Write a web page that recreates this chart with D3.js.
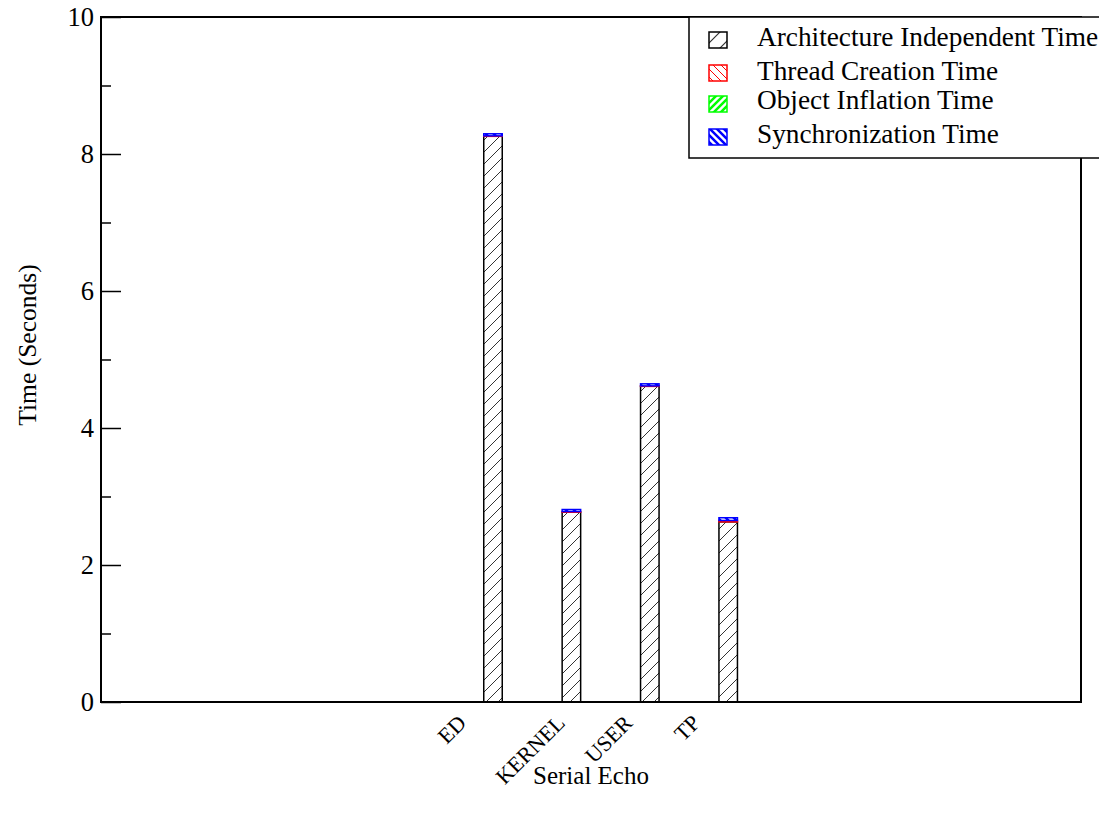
<!DOCTYPE html>
<html>
<head>
<meta charset="utf-8">
<script src="https://cdn.jsdelivr.net/npm/d3@7"></script>
<style>
  html, body { margin: 0; padding: 0; background: #fff; }
  svg { display: block; }
  text { font-family: "Liberation Serif", "Times New Roman", serif; fill: #000; }
</style>
</head>
<body>
<svg id="chart" width="1099" height="814"></svg>
<script>
// ---- data ----
const categories = ["ED", "KERNEL", "USER", "TP"];
const archTime   = [8.26, 2.77, 4.61, 2.63];
const threadTime = [0.005, 0.01, 0.005, 0.02];
const objectTime = [0, 0, 0, 0];
const syncTime   = [0.03, 0.03, 0.03, 0.04];
const seriesNames = ["Architecture Independent Time", "Thread Creation Time", "Object Inflation Time", "Synchronization Time"];
const yTicks = [0, 2, 4, 6, 8, 10];
const yMinorTicks = [1, 3, 5, 7, 9];
const xTitle = "Serial Echo";
const yTitle = "Time (Seconds)";

(function () {
const seriesValues = [archTime, threadTime, objectTime, syncTime];
const seriesColors = ["#000000", "#ff0000", "#00ff00", "#0000ff"];

const svg = d3.select("#chart");
const pL = 101, pR = 1081, pT = 17, pB = 702;

const x = d3.scaleLinear().domain([0, 12.5]).range([pL, pR]);
const y = d3.scaleLinear().domain([0, 10]).range([pB, pT]);

// ---- patterns ----
const defs = svg.append("defs");
function makePattern(id, color, dir, size, sw) {
  const p = defs.append("pattern").attr("id", id)
    .attr("patternUnits", "userSpaceOnUse")
    .attr("width", size).attr("height", size);
  p.append("rect").attr("width", size).attr("height", size).attr("fill", "#fff");
  const s = size;
  const d = dir === "/"
    ? `M0,${s} L${s},0 M${-s/2},${s/2} L${s/2},${-s/2} M${s/2},${s*1.5} L${s*1.5},${s/2}`
    : `M0,0 L${s},${s} M${-s/2},${s/2} L${s/2},${s*1.5} M${s/2},${-s/2} L${s*1.5},${s/2}`;
  p.append("path").attr("d", d).attr("stroke", color).attr("stroke-width", sw).attr("fill", "none");
}
makePattern("pb0", "#333", "/", 12, 1);
makePattern("pb1", "#ff0000", "\\", 12, 1);
makePattern("pb2", "#00ff00", "/", 8, 2.5);
makePattern("pb3", "#0000ff", "\\", 8, 2.5);
makePattern("pl0", "#333", "/", 16, 1.2);
makePattern("pl1", "#ff0000", "\\", 8, 1);
makePattern("pl2", "#00ff00", "/", 7, 2.5);
makePattern("pl3", "#0000ff", "\\", 7, 2.5);

// ---- bars (stacked) ----
const barW = x(0.236) - x(0);
const stackData = categories.map((c, i) => {
  let base = 0;
  return seriesValues.map((vals, s) => {
    const seg = { cat: c, idx: i, s, y0: base, y1: base + vals[i] };
    base += vals[i];
    return seg;
  });
});
const gBars = svg.append("g");
stackData.forEach(segs => {
  segs.forEach(seg => {
    if (seg.y1 - seg.y0 <= 0) return;
    const cx = x(5 + seg.idx);
    gBars.append("rect")
      .attr("x", cx - barW / 2)
      .attr("y", y(seg.y1))
      .attr("width", barW)
      .attr("height", Math.max(0.5, y(seg.y0) - y(seg.y1)))
      .attr("fill", `url(#pb${seg.s})`)
      .attr("stroke", seriesColors[seg.s])
      .attr("stroke-width", 1.5);
  });
});

// ---- frame ----
svg.append("rect").attr("x", pL).attr("y", pT)
  .attr("width", pR - pL).attr("height", pB - pT)
  .attr("fill", "none").attr("stroke", "#000").attr("stroke-width", 2);

// ---- y axis ----
const yAxis = d3.axisRight(y).tickValues(yTicks).tickSize(20).tickFormat("");
const gy = svg.append("g").attr("transform", `translate(${pL},0)`).call(yAxis);
gy.select(".domain").remove();
gy.selectAll("line").attr("stroke", "#000").attr("stroke-width", 1.5);
const yAxisMinor = d3.axisRight(y).tickValues(yMinorTicks).tickSize(10).tickFormat("");
const gym = svg.append("g").attr("transform", `translate(${pL},0)`).call(yAxisMinor);
gym.select(".domain").remove();
gym.selectAll("line").attr("stroke", "#000").attr("stroke-width", 1.5);

svg.append("g").selectAll("text").data(yTicks).join("text")
  .attr("x", 94).attr("y", d => y(d))
  .attr("dy", "0.34em")
  .attr("text-anchor", "end")
  .attr("font-size", 26.5)
  .text(d => d);

// ---- x labels (rotated 45°, bbox centred on tick, top just below axis) ----
const fs = 22;
const gx = svg.append("g");
const svgRect = svg.node().getBoundingClientRect();
categories.forEach((c, i) => {
  const t = gx.append("text").attr("font-size", fs).attr("text-anchor", "end").text(c)
    .attr("transform", "translate(0,0) rotate(-45)");
  const r = t.node().getBoundingClientRect();
  const cxNow = (r.left + r.right) / 2 - svgRect.left;
  const topNow = r.top - svgRect.top;
  const tx = x(4.5 + i) - 2;
  t.attr("transform", `translate(${tx - cxNow},${710 - topNow}) rotate(-45)`);
});

// ---- titles ----
svg.append("text").attr("x", (pL + pR) / 2).attr("y", 784)
  .attr("text-anchor", "middle").attr("font-size", 25).text(xTitle);
svg.append("text").attr("transform", `translate(36,345) rotate(-90)`)
  .attr("text-anchor", "middle").attr("font-size", 25.5).text(yTitle);

// ---- legend ----
const lg = svg.append("g");
lg.append("rect").attr("x", 689).attr("y", 17).attr("width", 440).attr("height", 141)
  .attr("fill", "#fff").attr("stroke", "#000").attr("stroke-width", 1.5);
const legBase = [46, 80, 108.5, 143];
const legBox = [32, 65, 96, 129];
seriesNames.forEach((n, i) => {
  lg.append("rect").attr("x", 709).attr("y", legBox[i]).attr("width", 18).attr("height", 16)
    .attr("fill", `url(#pl${i})`).attr("stroke", seriesColors[i]).attr("stroke-width", 1.5);
  lg.append("text").attr("x", 757).attr("y", legBase[i])
    .attr("font-size", 27.3).text(n);
});
})();
</script>
</body>
</html>
